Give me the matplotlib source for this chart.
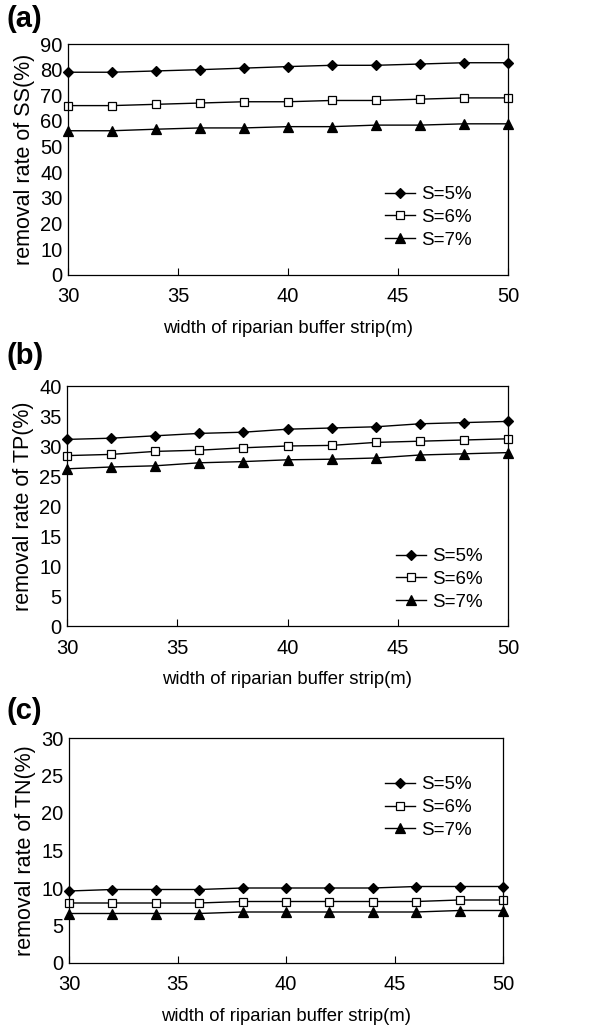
import matplotlib

matplotlib.use("Agg")
import matplotlib.pyplot as plt

plt.rcParams["font.family"] = ["Liberation Sans", "DejaVu Sans"]

WIDTH = [30, 32, 34, 36, 38, 40, 42, 44, 46, 48, 50]
LABELS = ["S=5%", "S=6%", "S=7%"]

SS_5 = [79.0, 79.0, 79.5, 80.0, 80.6, 81.2, 81.7, 81.7, 82.2, 82.7, 82.7]
SS_6 = [66.0, 66.0, 66.5, 67.0, 67.5, 67.5, 68.0, 68.0, 68.5, 69.0, 69.0]
SS_7 = [56.2, 56.2, 56.8, 57.3, 57.3, 57.8, 57.8, 58.4, 58.4, 58.9, 58.9]

TP_5 = [31.1, 31.3, 31.7, 32.1, 32.3, 32.8, 33.0, 33.2, 33.7, 33.9, 34.1]
TP_6 = [28.4, 28.6, 29.1, 29.3, 29.7, 30.0, 30.1, 30.6, 30.8, 31.0, 31.2]
TP_7 = [26.2, 26.5, 26.7, 27.2, 27.4, 27.7, 27.8, 28.0, 28.5, 28.7, 28.9]

TN_5 = [9.6, 9.8, 9.8, 9.8, 10.0, 10.0, 10.0, 10.0, 10.2, 10.2, 10.2]
TN_6 = [8.0, 8.0, 8.0, 8.0, 8.2, 8.2, 8.2, 8.2, 8.2, 8.4, 8.4]
TN_7 = [6.6, 6.6, 6.6, 6.6, 6.8, 6.8, 6.8, 6.8, 6.8, 7.0, 7.0]

PANELS = [
    ("(a)", "removal rate of SS(%)", (SS_5, SS_6, SS_7), 90, 10),
    ("(b)", "removal rate of TP(%)", (TP_5, TP_6, TP_7), 40, 5),
    ("(c)", "removal rate of TN(%)", (TN_5, TN_6, TN_7), 30, 5),
]
# axes boxes in figure pixels: left, right, top, bottom
BOXES = [(68, 508, 44, 275), (67, 508, 386, 626), (69, 503, 738, 963)]
LEG_ANCHOR = [(0.72, 0.385), (0.746, 0.325), (0.728, 0.83)]
TAG_Y = [19, 356, 711]
STYLES = [dict(marker="D", mfc="black", ms=5.5),
          dict(marker="s", mfc="white", ms=6),
          dict(marker="^", mfc="black", ms=7)]

W, H = 610, 1028
fig = plt.figure(figsize=(W / 100, H / 100), dpi=100)

for (tag, ylab, series, ymax, ystep), (l, r, t, b), anc, ty in zip(
        PANELS, BOXES, LEG_ANCHOR, TAG_Y):
    ax = fig.add_axes([l / W, 1 - b / H, (r - l) / W, (b - t) / H])
    for vals, lab, st in zip(series, LABELS, STYLES):
        ax.plot(WIDTH, vals, color="black", lw=1.0, mec="black", mew=0.9,
                label=lab, clip_on=False, **st)
    ax.set_xlim(30, 50)
    ax.set_ylim(0, ymax)
    ax.set_xticks(range(30, 51, 5))
    ax.set_yticks(range(0, ymax + 1, ystep))
    ax.tick_params(axis="x", direction="in", length=5, labelsize=14.5, pad=9)
    ax.tick_params(axis="y", length=0, labelsize=14.5, pad=4)
    for s in ax.spines.values():
        s.set_linewidth(0.9)
    ax.set_xlabel("width of riparian buffer strip(m)", fontsize=13.3, labelpad=10)
    ax.set_ylabel(ylab, fontsize=15.5, labelpad=4)
    ax.legend(loc="upper left", bbox_to_anchor=anc, frameon=False, fontsize=13.5,
              handlelength=1.6, handletextpad=0.35, labelspacing=0.3,
              borderpad=0, borderaxespad=0)
    fig.text(6 / W, 1 - ty / H, tag, fontsize=21, fontweight="bold",
             va="center", ha="left")

fig.savefig("out.png", dpi=100)
